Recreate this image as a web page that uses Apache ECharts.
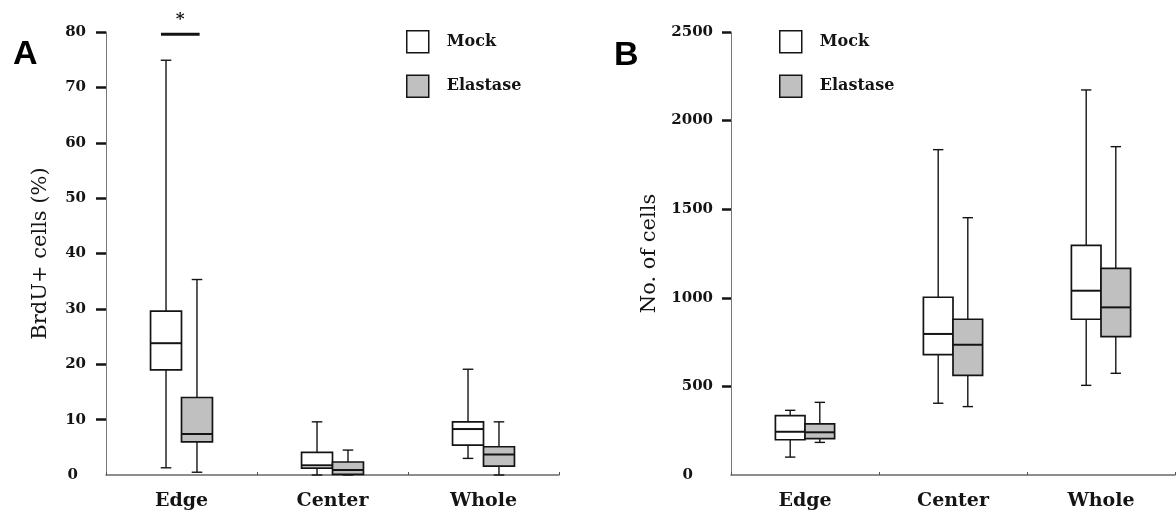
<!DOCTYPE html>
<html>
<head>
<meta charset="utf-8">
<script src="https://cdn.jsdelivr.net/npm/echarts@6/dist/echarts.min.js"></script>
<style>
  html, body { margin: 0; padding: 0; background: #fff; }
  #chart { width: 1176px; height: 515px; }
</style>
</head>
<body>
<div id="chart"></div>
<script>
// ---- Data ----
const categories = ['Edge', 'Center', 'Whole'];
const seriesNames = ['Mock', 'Elastase'];

// Panel A: BrdU+ cells (%) — [min, Q1, median, Q3, max]
const mockA = [
  [1.3, 19.0, 23.8, 29.6, 74.9],
  [0, 1.25, 1.75, 4.1, 9.6],
  [3.0, 5.4, 8.3, 9.6, 19.1]
];
const elastaseA = [
  [0.5, 6.0, 7.4, 14.0, 35.3],
  [0, 0.1, 0.9, 2.35, 4.5],
  [0, 1.6, 3.7, 5.1, 9.6]
];

// Panel B: No. of cells — [min, Q1, median, Q3, max]
const mockB = [
  [101, 199, 244, 335, 365],
  [405, 679, 796, 1003, 1836],
  [506, 879, 1040, 1296, 2173]
];
const elastaseB = [
  [184, 205, 241, 288, 410],
  [386, 562, 735, 879, 1452],
  [574, 781, 946, 1166, 1853]
];

// Significance marker (panel A)
const sigCategory = ['Edge'];
const sigLevel = [79.6];
const sigLabel = ['*'];

// Axis tick labels
const tickLabelsA = [0, 10, 20, 30, 40, 50, 60, 70, 80];
const tickLabelsB = [0, 500, 1000, 1500, 2000, 2500];

// ---- Styles ----
const SERIF = 'DejaVu Serif';
const INK = '#141414';
const FILLS = { Mock: '#ffffff', Elastase: '#c0c0c0' };

function toRows(stats) {
  return stats.map((s, i) => [i].concat(s));
}

function makeBoxSeries(name, stats, side, axisIdx, boxFrac) {
  return {
    type: 'custom',
    name: name,
    xAxisIndex: axisIdx,
    yAxisIndex: axisIdx,
    itemStyle: { color: FILLS[name], borderColor: INK, borderWidth: 1.5 },
    encode: { x: 0, y: [1, 2, 3, 4, 5] },
    data: toRows(stats),
    z: side < 0 ? 3 : 4,
    renderItem: function (params, api) {
      const c = api.value(0);
      const band = api.size([1, 0])[0];
      const w = band * boxFrac;
      const cx = api.coord([c, 0])[0] + side * w / 2;
      const y = (i) => api.coord([c, api.value(i)])[1];
      const cap = band * 0.07;
      const ln = { stroke: INK, lineWidth: 1.4 };
      return {
        type: 'group',
        children: [
          { type: 'line', shape: { x1: cx, y1: y(4), x2: cx, y2: y(5) }, style: ln },
          { type: 'line', shape: { x1: cx - cap / 2, y1: y(5), x2: cx + cap / 2, y2: y(5) }, style: ln },
          { type: 'line', shape: { x1: cx, y1: y(1), x2: cx, y2: y(2) }, style: ln },
          { type: 'line', shape: { x1: cx - cap / 2, y1: y(1), x2: cx + cap / 2, y2: y(1) }, style: ln },
          { type: 'rect', shape: { x: cx - w / 2, y: y(4), width: w, height: y(2) - y(4) },
            style: { fill: FILLS[name], stroke: INK, lineWidth: 1.7 } },
          { type: 'line', shape: { x1: cx - w / 2, y1: y(3), x2: cx + w / 2, y2: y(3) },
            style: { stroke: INK, lineWidth: 2 } }
        ]
      };
    }
  };
}

function yAxisDef(gridIdx, labels, name, nameGap, labelMargin, tickLen, zeroPad) {
  return {
    type: 'value',
    gridIndex: gridIdx,
    min: labels[0], max: labels[labels.length - 1], interval: labels[1] - labels[0],
    name: name,
    nameLocation: 'middle',
    nameGap: nameGap,
    nameTextStyle: { fontFamily: SERIF, fontSize: 21, color: INK, fontWeight: 'normal' },
    axisLine: { show: true, lineStyle: { color: '#777', width: 1 } },
    axisTick: { show: true, length: tickLen, customValues: labels.filter((v) => v !== 0),
                lineStyle: { color: INK, width: 2.5 } },
    splitLine: { show: false },
    axisLabel: {
      margin: labelMargin,
      customValues: labels,
      fontFamily: SERIF, fontWeight: 'bold', fontSize: 15, color: INK,
      formatter: (v) => (v === 0 ? '{z|0}' : String(v)),
      rich: { z: { padding: [0, zeroPad, 0, 0], fontFamily: SERIF, fontWeight: 'bold', fontSize: 15, color: INK } }
    }
  };
}

function xAxisDef(gridIdx) {
  return {
    type: 'category',
    gridIndex: gridIdx,
    data: categories,
    axisLine: { show: true, lineStyle: { color: '#6a6a6a', width: 1.5 } },
    axisTick: { show: true, inside: true, length: 3, lineStyle: { color: '#555', width: 1 } },
    splitLine: { show: false },
    axisLabel: { margin: 17, fontFamily: SERIF, fontWeight: 'bold', fontSize: 19, color: INK }
  };
}

function legendDef(left) {
  return {
    orient: 'vertical',
    left: left, top: 30,
    padding: 0,
    itemWidth: 22, itemHeight: 22, itemGap: 21,
    icon: 'rect',
    selectedMode: false,
    textStyle: { fontFamily: SERIF, fontWeight: 'bold', fontSize: 16, color: INK, padding: [0, 0, 0, 13] },
    data: seriesNames.map((n) => ({
      name: n,
      itemStyle: { color: FILLS[n], borderColor: INK, borderWidth: 1.5 }
    }))
  };
}

const sigSeries = {
  type: 'custom',
  name: 'significance',
  xAxisIndex: 0, yAxisIndex: 0,
  data: sigCategory.map((c, i) => [categories.indexOf(c), sigLevel[i]]),
  encode: { x: 0, y: 1 },
  z: 5,
  renderItem: function (params, api) {
    const idx = params.dataIndex;
    const band = api.size([1, 0])[0];
    const p = api.coord([api.value(0), api.value(1)]);
    const x1 = p[0] - band * 0.136, x2 = p[0] + band * 0.12;
    return {
      type: 'group',
      children: [
        { type: 'line', shape: { x1: x1, y1: p[1], x2: x2, y2: p[1] }, style: { stroke: INK, lineWidth: 3 } },
        { type: 'text', style: { text: sigLabel[idx], x: (x1 + x2) / 2, y: p[1] - 15, align: 'center',
            verticalAlign: 'middle', fontFamily: SERIF, fontWeight: 'bold', fontSize: 17, fill: INK } }
      ]
    };
  }
};

const chart = echarts.init(document.getElementById('chart'), null, { renderer: 'canvas' });
chart.setOption({
  backgroundColor: '#ffffff',
  animation: false,
  grid: [
    { left: 106, right: 617, top: 32, bottom: 40 },
    { left: 731, right: 1, top: 32, bottom: 40 }
  ],
  xAxis: [xAxisDef(0), xAxisDef(1)],
  yAxis: [
    yAxisDef(0, tickLabelsA, 'BrdU+ cells (%)', 55, 20, 10, 8),
    yAxisDef(1, tickLabelsB, 'No. of cells', 71, 18, 9, 20)
  ],
  legend: [legendDef(406), legendDef(779)],
  graphic: [
    { type: 'text', left: 13, top: 38, style: { text: 'A', fontFamily: 'Liberation Sans', fontWeight: 'bold', fontSize: 34, fill: '#000' } },
    { type: 'text', left: 614, top: 39, style: { text: 'B', fontFamily: 'Liberation Sans', fontWeight: 'bold', fontSize: 34, fill: '#000' } }
  ],
  series: [
    makeBoxSeries('Mock', mockA, -1, 0, 0.205),
    makeBoxSeries('Elastase', elastaseA, 1, 0, 0.205),
    makeBoxSeries('Mock', mockB, -1, 1, 0.2),
    makeBoxSeries('Elastase', elastaseB, 1, 1, 0.2),
    sigSeries
  ]
});
</script>
</body>
</html>
